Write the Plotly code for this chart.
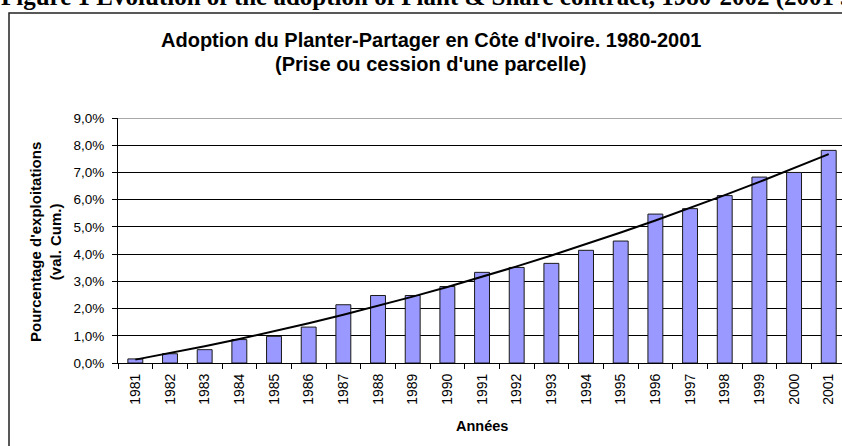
import numpy as np
import plotly.graph_objects as go

years = ["1981", "1982", "1983", "1984", "1985", "1986", "1987", "1988", "1989", "1990", "1991",
         "1992", "1993", "1994", "1995", "1996", "1997", "1998", "1999", "2000", "2001"]
adoption_pct = [0.15, 0.34, 0.49, 0.86, 0.98, 1.32, 2.14, 2.48, 2.48, 2.81, 3.33,
                3.51, 3.66, 4.14, 4.48, 5.47, 5.67, 6.15, 6.83, 7.00, 7.81]
y_ticks = [0, 1, 2, 3, 4, 5, 6, 7, 8, 9]
y_ticktext = [f"{v:.1f}".replace(".", ",") + "%" for v in y_ticks]

title_line1 = "Adoption du Planter-Partager en Côte d'Ivoire. 1980-2001"
title_line2 = "(Prise ou cession d'une parcelle)"
y_title = "Pourcentage d'exploitations<br>(val. Cum.)"
x_title = "Années"
caption = "Figure 1 Evolution of the adoption of Plant &amp; Share contract, 1980-2002 (2001 survey)"

# polynomial (order 2) trendline as in the spreadsheet
idx = np.arange(len(adoption_pct))
coef = np.polyfit(idx, adoption_pct, 2)
trend = np.polyval(coef, idx)

W, H = 842, 446
L, R, T, B = 118, 0, 118, 83
pw, ph = W - L - R, H - T - B


def px(x):
    return (x - L) / pw


def py(y):
    return (H - B - y) / ph


fig = go.Figure()
fig.add_trace(go.Bar(
    x=years, y=adoption_pct,
    marker=dict(color="#9999FF", line=dict(color="#1a1a1a", width=1)),
    showlegend=False,
))
fig.add_trace(go.Scatter(
    x=years, y=trend, mode="lines",
    line=dict(color="black", width=2),
    showlegend=False,
))

cat_w = 34.67
right_edge = -0.5 + pw / cat_w

fig.update_layout(
    width=W, height=H,
    margin=dict(l=L, r=R, t=T, b=B),
    paper_bgcolor="white", plot_bgcolor="white",
    bargap=0.57,
    font=dict(family="Arial, Liberation Sans, sans-serif", color="black"),
    xaxis=dict(
        type="category", range=[-0.5, right_edge],
        tickson="boundaries", ticks="outside", ticklen=5, tickwidth=1, tickcolor="black",
        tickangle=-90, tickfont=dict(size=14, family="Liberation Sans Narrow, Arial Narrow, Arial"),
        ticklabelstandoff=4,
        showline=True, linecolor="black", linewidth=1,
        showgrid=False, zeroline=False,
    ),
    yaxis=dict(
        range=[0, 9], tickvals=y_ticks, ticktext=y_ticktext,
        ticks="outside", ticklen=5, tickwidth=1, tickcolor="black",
        tickfont=dict(size=13.5), ticklabelstandoff=5,
        showline=True, linecolor="black", linewidth=1,
        showgrid=True, gridcolor="black", gridwidth=1,
        zeroline=False,
    ),
    shapes=[
        dict(type="line", xref="paper", yref="y", x0=0, x1=1, y0=9, y1=9,
             line=dict(color="#8c8c8c", width=1.5), layer="above"),
        dict(type="rect", xref="paper", yref="paper",
             x0=px(9), x1=px(860), y0=py(460), y1=py(13),
             line=dict(color="#222", width=1.5)),
    ],
    annotations=[
        dict(text="<b>" + caption + "</b>", xref="paper", yref="paper", x=px(-1), y=py(13),
             xanchor="left", yanchor="bottom", showarrow=False,
             font=dict(family="Liberation Serif, Times New Roman, serif", size=25, color="black"),
             ),
        dict(text="<b>" + title_line1 + "</b>", xref="paper", yref="paper",
             x=px(431), y=py(40), xanchor="center", yanchor="middle", showarrow=False,
             font=dict(size=20)),
        dict(text="<b>" + title_line2 + "</b>", xref="paper", yref="paper",
             x=px(431), y=py(64), xanchor="center", yanchor="middle", showarrow=False,
             font=dict(size=20)),
        dict(text="<b>" + y_title + "</b>", xref="paper", yref="paper",
             x=px(45), y=py(242), xanchor="center", yanchor="middle", showarrow=False,
             textangle=-90, font=dict(size=15)),
        dict(text="<b>" + x_title + "</b>", xref="paper", yref="paper",
             x=px(482), y=py(426), xanchor="center", yanchor="middle", showarrow=False,
             font=dict(size=14.5)),
    ],
)

fig.write_html(
    "out.html",
    config={"displayModeBar": False},
    post_script="document.body.style.margin='0';document.body.style.overflow='hidden';",
)
